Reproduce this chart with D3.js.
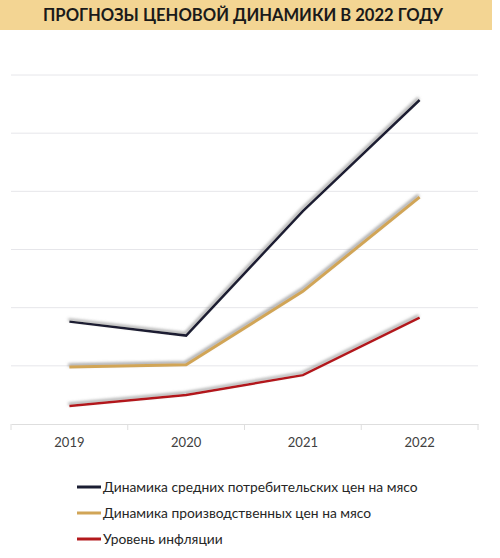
<!DOCTYPE html>
<meta charset="utf-8">
<html lang="ru">
<head>
<title>Прогнозы ценовой динамики</title>
<script src="https://d3js.org/d3.v7.min.js"></script>
<style>
  body { margin: 0; background: #fff; }
  text { font-family: Lato, "Open Sans", sans-serif; }
</style>
</head>
<body>
<script>
// data (no units on the source, gridline step = 1)
var years = ["2019", "2020", "2021", "2022"];
var consumer = [1.76, 1.52, 3.66, 5.57];
var producer = [0.98, 1.02, 2.28, 3.90];
var inflation = [0.31, 0.50, 0.84, 1.83];
var seriesNames = [
  "Динамика средних потребительских цен на мясо",
  "Динамика производственных цен на мясо",
  "Уровень инфляции"
];
var seriesColors = ["#1b1e33", "#d1a557", "#b3191c"];
var gridTicks = [1, 2, 3, 4, 5, 6];

var width = 500, height = 558;
var margin = {left: 11, right: 22, top: 75, bottom: 134};

var svg = d3.select("body").append("svg")
    .attr("width", width)
    .attr("height", height);

// soft gray shadow sitting a bit above the lines
var filt = svg.append("defs").append("filter")
    .attr("id", "shadow")
    .attr("x", "-10%").attr("y", "-20%")
    .attr("width", "120%").attr("height", "140%");
filt.append("feDropShadow")
    .attr("dx", -1).attr("dy", -2)
    .attr("stdDeviation", 1.6)
    .attr("flood-color", "#888")
    .attr("flood-opacity", 0.8);

// title band
svg.append("rect")
    .attr("x", 0).attr("y", 0)
    .attr("width", 492).attr("height", 30)
    .attr("fill", "#f3d593");
svg.append("text")
    .attr("x", 243).attr("y", 21)
    .attr("text-anchor", "middle")
    .attr("font-size", 16.6)
    .attr("font-weight", "bold")
    .attr("fill", "#1a1a1a")
    .text("ПРОГНОЗЫ ЦЕНОВОЙ ДИНАМИКИ В 2022 ГОДУ");

var x = d3.scaleBand()
    .domain(years)
    .range([margin.left, width - margin.right]);

var y = d3.scaleLinear()
    .domain([0, 6])
    .range([height - margin.bottom, margin.top]);

// horizontal gridlines
svg.append("g")
  .selectAll("line")
    .data(gridTicks)
  .enter().append("line")
    .attr("x1", margin.left)
    .attr("x2", width - margin.right)
    .attr("y1", function(d) { return y(d); })
    .attr("y2", function(d) { return y(d); })
    .attr("stroke", "#e6e6ea")
    .attr("stroke-width", 1);

// category axis
var xAxis = d3.axisBottom(x).tickSize(0).tickPadding(14);
var gx = svg.append("g")
    .attr("transform", "translate(0," + y(0) + ")")
    .call(xAxis);
gx.select(".domain").attr("stroke", "#dedede");
gx.selectAll(".tick text")
    .attr("font-size", 13)
    .attr("fill", "#404040")
    .style("font-family", "Lato, 'Open Sans', sans-serif");
// band edge ticks
gx.selectAll(".edge")
    .data(years.map(function(d) { return x(d); }).concat([x.range()[1]]))
  .enter().append("line")
    .attr("class", "edge")
    .attr("x1", function(d) { return d; })
    .attr("x2", function(d) { return d; })
    .attr("y1", 0).attr("y2", 6)
    .attr("stroke", "#dedede");

var line = d3.line()
    .x(function(d, i) { return x(years[i]) + x.bandwidth() / 2; })
    .y(function(d) { return y(d); });

var allSeries = [consumer, producer, inflation];

svg.append("g")
  .selectAll("path")
    .data(allSeries)
  .enter().append("path")
    .attr("d", line)
    .attr("fill", "none")
    .attr("stroke", function(d, i) { return seriesColors[i]; })
    .attr("stroke-width", function(d, i) { return i == 1 ? 3 : 2.5; })
    .attr("stroke-linejoin", "miter")
    .attr("filter", "url(#shadow)");

// legend
var legend = svg.append("g")
  .selectAll("g")
    .data(seriesNames)
  .enter().append("g")
    .attr("transform", function(d, i) { return "translate(77," + (487 + i * 26) + ")"; });

legend.append("line")
    .attr("x1", 0).attr("x2", 24)
    .attr("stroke", function(d, i) { return seriesColors[i]; })
    .attr("stroke-width", 3);

legend.append("text")
    .attr("x", 26)
    .attr("y", 5)
    .attr("font-size", 13.8)
    .attr("fill", "#262626")
    .text(function(d) { return d; });
</script>
</body>
</html>
